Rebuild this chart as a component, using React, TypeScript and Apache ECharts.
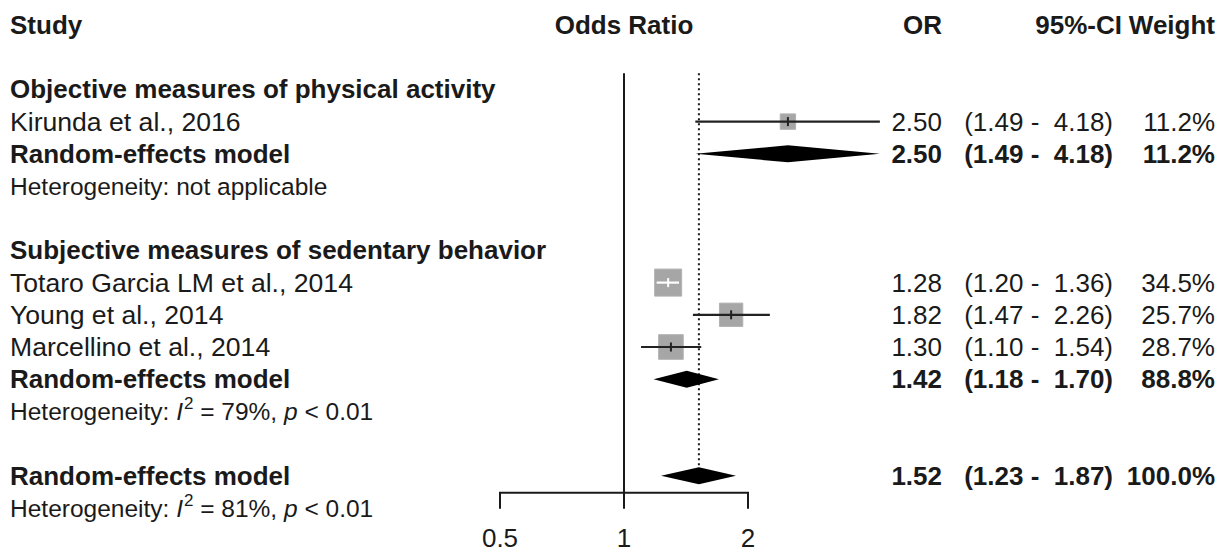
import React, { useEffect, useRef } from "react";
import * as echarts from "echarts";

// ---------- data ----------
const headerLabels = ["Study", "Odds Ratio", "OR", "95%-CI", "Weight"];
const subgroupTitles = [
  "Objective measures of physical activity",
  "Subjective measures of sedentary behavior",
];
const subgroupRows = [2, 7];

const studyNames = [
  "Kirunda et al., 2016",
  "Totaro Garcia LM et al., 2014",
  "Young et al., 2014",
  "Marcellino et al., 2014",
];
const studyRows = [3, 8, 9, 10];
const studyOR = [2.5, 1.28, 1.82, 1.3];
const studyLower = [1.49, 1.2, 1.47, 1.1];
const studyUpper = [4.18, 1.36, 2.26, 1.54];
const studyWeight = [11.2, 34.5, 25.7, 28.7];

const modelLabel = "Random-effects model";
const modelRows = [4, 11, 14];
const modelOR = [2.5, 1.42, 1.52];
const modelLower = [1.49, 1.18, 1.23];
const modelUpper = [4.18, 1.7, 1.87];
const modelWeight = [11.2, 88.8, 100.0];

const hetRows = [5, 12, 15];
const hetI2: (number | null)[] = [null, 79, 81];
const hetP: (string | null)[] = [null, "< 0.01", "< 0.01"];

const axisTicks = [0.5, 1, 2];

// ---------- layout / style ----------
const FONT = '"Liberation Sans", Arial, Helvetica, sans-serif';
const FS = 26;
const FS_NAME = 26.6;
const FS_HET = 24.5;
const ROW_TOP = 25;
const ROW_H = 32.2;
const N_ROWS = 16;
const AXIS_ROW = 14.53;
const TICK_LABEL_ROW = 15.92;
const TOP_LINE_ROW = 1.5;
const X_LABEL = 10;
const X_OR = 942;
const X_CI = 1113;
const X_CI_HEAD = 1122;
const X_W = 1215;
const SQUARE_K = 4.6;
const DIAMOND_HALF = 8.5;
const INK = "#1a1a1a";

const fmt2 = (v: number) => v.toFixed(2);
const ciText = (lo: number, hi: number) => `(${fmt2(lo)} -  ${fmt2(hi)})`;
const wText = (w: number) => `${w.toFixed(1)}%`;

type TextSpec = {
  row: number;
  text: string;
  x: number;
  align: "left" | "right" | "center";
  bold?: boolean;
  size?: number;
  rich?: boolean;
};

const textSpecs: TextSpec[] = [];
textSpecs.push({ row: 0, text: headerLabels[0], x: X_LABEL, align: "left", bold: true });
textSpecs.push({ row: 0, text: headerLabels[1], x: 624, align: "center", bold: true });
textSpecs.push({ row: 0, text: headerLabels[2], x: X_OR, align: "right", bold: true });
textSpecs.push({ row: 0, text: headerLabels[3], x: X_CI_HEAD, align: "right", bold: true });
textSpecs.push({ row: 0, text: headerLabels[4], x: X_W, align: "right", bold: true });
subgroupTitles.forEach((t, i) =>
  textSpecs.push({ row: subgroupRows[i], text: t, x: X_LABEL, align: "left", bold: true })
);
studyNames.forEach((n, i) => {
  const r = studyRows[i];
  textSpecs.push({ row: r, text: n, x: X_LABEL, align: "left", size: FS_NAME });
  textSpecs.push({ row: r, text: fmt2(studyOR[i]), x: X_OR, align: "right" });
  textSpecs.push({ row: r, text: ciText(studyLower[i], studyUpper[i]), x: X_CI, align: "right" });
  textSpecs.push({ row: r, text: wText(studyWeight[i]), x: X_W, align: "right" });
});
modelRows.forEach((r, i) => {
  textSpecs.push({ row: r, text: modelLabel, x: X_LABEL, align: "left", bold: true });
  textSpecs.push({ row: r, text: fmt2(modelOR[i]), x: X_OR, align: "right", bold: true });
  textSpecs.push({ row: r, text: ciText(modelLower[i], modelUpper[i]), x: X_CI, align: "right", bold: true });
  textSpecs.push({ row: r, text: wText(modelWeight[i]), x: X_W, align: "right", bold: true });
});
hetRows.forEach((r, i) => {
  if (hetI2[i] === null) {
    textSpecs.push({ row: r, text: "Heterogeneity: not applicable", x: X_LABEL, align: "left", size: FS_HET });
  } else {
    textSpecs.push({
      row: r,
      text: `Heterogeneity: {it|I}{sup|2} = ${hetI2[i]}%, {it|p} ${hetP[i]}`,
      x: X_LABEL,
      align: "left",
      size: FS_HET,
      rich: true,
    });
  }
});

export default function App() {
  const ref = useRef<HTMLDivElement>(null);

  useEffect(() => {
    document.body.style.margin = "0";
    const chart = echarts.init(ref.current!, undefined, { renderer: "svg" });

    const option: any = {
      animation: false,
      backgroundColor: "#ffffff",
      grid: {
        left: 624 - 124 * 3,
        right: 1223 - (624 + 124 * 3),
        top: ROW_TOP,
        height: ROW_H * N_ROWS,
      },
      xAxis: {
        type: "log",
        logBase: 2,
        min: 0.125,
        max: 8,
        axisLine: { show: false },
        axisTick: { show: false },
        axisLabel: { show: false },
        splitLine: { show: false },
      },
      yAxis: {
        type: "value",
        inverse: true,
        min: 0,
        max: N_ROWS,
        axisLine: { show: false },
        axisTick: { show: false },
        axisLabel: { show: false },
        splitLine: { show: false },
      },
      series: [
        // reference lines (null effect and overall estimate)
        {
          type: "custom",
          silent: true,
          clip: false,
          data: [[1, 0, 0], [modelOR[2], 0, 1]],
          renderItem: (params: any, api: any) => {
            const v = api.value(0);
            const kind = api.value(2);
            const top = api.coord([v, TOP_LINE_ROW]);
            if (kind === 0) {
              const bot = api.coord([v, AXIS_ROW]);
              return {
                type: "line",
                shape: { x1: top[0], y1: top[1], x2: bot[0], y2: bot[1] },
                style: { stroke: INK, lineWidth: 2 },
              };
            }
            const bot = api.coord([v, modelRows[2]]);
            return {
              type: "line",
              shape: { x1: top[0], y1: top[1], x2: bot[0], y2: bot[1] - DIAMOND_HALF },
              style: { stroke: INK, lineWidth: 2, lineDash: [2, 3] },
            };
          },
        },
        // studies
        {
          type: "custom",
          silent: true,
          clip: false,
          data: studyOR.map((v, i) => [v, studyRows[i], studyLower[i], studyUpper[i], studyWeight[i]]),
          renderItem: (params: any, api: any) => {
            const row = api.value(1);
            const c = api.coord([api.value(0), row]);
            const l = api.coord([api.value(2), row]);
            const h = api.coord([api.value(3), row]);
            const s = SQUARE_K * Math.sqrt(api.value(4));
            const inside = l[0] >= c[0] - s / 2 && h[0] <= c[0] + s / 2;
            const lc = inside ? "#ffffff" : "#222222";
            return {
              type: "group",
              children: [
                {
                  type: "rect",
                  shape: { x: c[0] - s / 2, y: c[1] - s / 2, width: s, height: s },
                  style: { fill: "#a6a6a6", stroke: "#b2b2b2", lineWidth: 1 },
                },
                {
                  type: "line",
                  shape: { x1: l[0], y1: c[1], x2: h[0], y2: c[1] },
                  style: { stroke: lc, lineWidth: 2.2 },
                },
                {
                  type: "line",
                  shape: { x1: c[0], y1: c[1] - 4.5, x2: c[0], y2: c[1] + 4.5 },
                  style: { stroke: lc, lineWidth: 2 },
                },
              ],
            };
          },
        },
        // pooled diamonds
        {
          type: "custom",
          silent: true,
          clip: false,
          data: modelOR.map((v, i) => [v, modelRows[i], modelLower[i], modelUpper[i]]),
          renderItem: (params: any, api: any) => {
            const row = api.value(1);
            const c = api.coord([api.value(0), row]);
            const l = api.coord([api.value(2), row]);
            const h = api.coord([api.value(3), row]);
            return {
              type: "polygon",
              shape: {
                points: [
                  [l[0], c[1]],
                  [c[0], c[1] - DIAMOND_HALF],
                  [h[0], c[1]],
                  [c[0], c[1] + DIAMOND_HALF],
                ],
              },
              style: { fill: "#000000" },
            };
          },
        },
        // x axis bracket
        {
          type: "custom",
          silent: true,
          clip: false,
          data: axisTicks.map((t) => [t, AXIS_ROW]),
          renderItem: (params: any, api: any) => {
            const p = api.coord([api.value(0), AXIS_ROW]);
            const lab = api.coord([api.value(0), TICK_LABEL_ROW]);
            const children: any[] = [
              {
                type: "line",
                shape: { x1: p[0], y1: p[1], x2: p[0], y2: p[1] + 16 },
                style: { stroke: INK, lineWidth: 2 },
              },
              {
                type: "text",
                style: {
                  text: String(axisTicks[params.dataIndex]),
                  x: lab[0],
                  y: lab[1],
                  align: "center",
                  verticalAlign: "middle",
                  font: `${FS}px ${FONT}`,
                  fill: INK,
                },
              },
            ];
            if (params.dataIndex === 0) {
              const e = api.coord([axisTicks[axisTicks.length - 1], AXIS_ROW]);
              children.push({
                type: "line",
                shape: { x1: p[0] - 1, y1: p[1], x2: e[0] + 1, y2: e[1] },
                style: { stroke: INK, lineWidth: 2 },
              });
            }
            return { type: "group", children };
          },
        },
        // text columns
        {
          type: "custom",
          silent: true,
          clip: false,
          data: textSpecs.map((t) => [1, t.row]),
          renderItem: (params: any, api: any) => {
            const t = textSpecs[params.dataIndex];
            const p = api.coord([1, t.row]);
            const size = t.size || FS;
            const style: any = {
              text: t.text,
              x: t.x,
              y: p[1],
              align: t.align,
              verticalAlign: "middle",
              fontFamily: FONT,
              fontSize: size,
              fontWeight: t.bold ? "bold" : "normal",
              fill: INK,
            };
            if (t.rich) {
              style.lineHeight = 32;
              style.rich = {
                it: { fontFamily: FONT, fontSize: size, fontStyle: "italic", fill: INK, lineHeight: 32 },
                sup: {
                  fontFamily: FONT,
                  fontSize: 17,
                  lineHeight: 17,
                  verticalAlign: "top",
                  fill: INK,
                  padding: [0, 0, 0, 1],
                },
              };
            }
            return { type: "text", style };
          },
        },
      ],
    };

    chart.setOption(option);
    return () => chart.dispose();
  }, []);

  return <div ref={ref} style={{ width: 1223, height: 552, background: "#fff" }} />;
}
